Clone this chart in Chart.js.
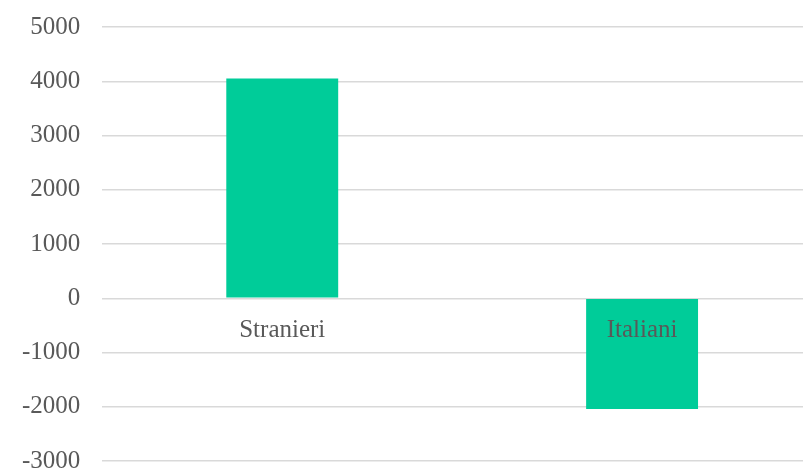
<!DOCTYPE html>
<html>
<head>
<meta charset="utf-8">
<script src="https://cdn.jsdelivr.net/npm/chart.js@4"></script>
<style>
  html, body { margin: 0; padding: 0; background: #fff; overflow: hidden; width: 803px; height: 470px; }
  #wrap { width: 822px; height: 508px; position: relative; margin-top: -10px; }
</style>
</head>
<body>
<div id="wrap"><canvas id="chart"></canvas></div>
<script>
// dati
const categories = ["Stranieri", "Italiani"];
const values = [4050, -2040];
const yMin = -3000;
const yMax = 5000;
const yStep = 1000;

const ctx = document.getElementById("chart").getContext("2d");
new Chart(ctx, {
  type: "bar",
  data: {
    labels: categories,
    datasets: [{
      data: values,
      backgroundColor: "#00cc99",
      borderWidth: 0,
      barPercentage: 0.311,
      categoryPercentage: 1
    }]
  },
  options: {
    responsive: true,
    maintainAspectRatio: false,
    animation: false,
    layout: { padding: { top: 5, bottom: -35, left: 0, right: 0 } },
    plugins: { legend: { display: false }, tooltip: { enabled: false } },
    scales: {
      x: {
        position: { y: 0 },
        grid: { display: false, drawTicks: false },
        border: { display: false },
        ticks: {
          z: 1,
          autoSkip: false,
          maxRotation: 0,
          padding: 17,
          color: "#595959",
          font: { family: "Liberation Serif", size: 25 }
        }
      },
      y: {
        min: yMin,
        max: yMax,
        grid: { color: "#d9d9d9", lineWidth: 1.5, drawTicks: false },
        border: { display: false },
        ticks: {
          stepSize: yStep,
          padding: 22,
          color: "#595959",
          font: { family: "Liberation Serif", size: 25 },
          callback: (v) => String(v)
        }
      }
    }
  }
});
</script>
</body>
</html>
